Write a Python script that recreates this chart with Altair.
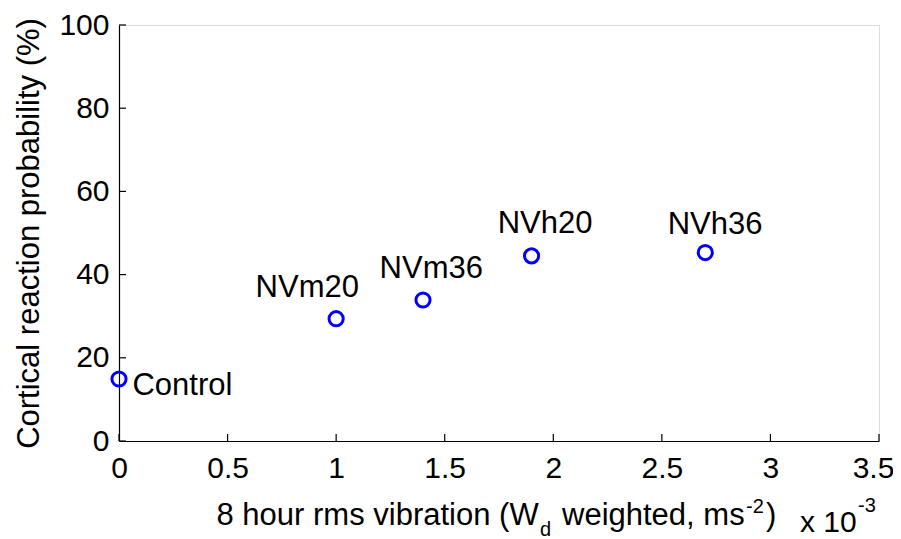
import altair as alt
import pandas as pd

# Data (x in units of 1e-3 m/s^2)
conditions = ["Control", "NVm20", "NVm36", "NVh20", "NVh36"]
vibration = [0.0, 1.0, 1.4, 1.9, 2.7]
probability = [14.9, 29.4, 33.9, 44.5, 45.3]
label_x = [0.062, 0.629, 1.200, 1.744, 2.527]
label_y = [11.1, 34.6, 39.3, 49.9, 49.8]

x_ticks = [0, 0.5, 1, 1.5, 2, 2.5, 3, 3.5]
y_ticks = [0, 20, 40, 60, 80, 100]

W, H = 760, 416
FONT = "Liberation Sans"

df = pd.DataFrame({"cond": conditions, "x": vibration, "y": probability,
                   "lx": label_x, "ly": label_y})
xt = pd.DataFrame({"v": x_ticks})
yt = pd.DataFrame({"v": y_ticks})

xscale = alt.Scale(domain=[0, 3.5], nice=False, zero=False)
yscale = alt.Scale(domain=[0, 100], nice=False, zero=False)

xaxis = alt.Axis(values=x_ticks, format="~g", grid=False, ticks=False, tickSize=0,
                 labelPadding=12, labelFontSize=30, labelFont=FONT, labelColor="black",
                 labelOffset={"condition": {"test": "datum.value >= 3.5", "value": -6},
                              "value": 0},
                 domainColor="black", domainWidth=1.2, title=None, labelFlush=False)
yaxis = alt.Axis(values=y_ticks, grid=False, ticks=False, tickSize=0,
                 labelPadding=10, labelFontSize=30, labelFont=FONT, labelColor="black",
                 domainColor="black", domainWidth=1.2,
                 title="Cortical reaction probability (%)", titleFontSize=31,
                 titleFont=FONT, titleFontWeight="normal", titleColor="black",
                 titleAngle=270, titleAlign="center", titleBaseline="alphabetic",
                 titleX=-81, titleY=208, labelFlush=False)

base = alt.Chart(df)

points = base.mark_point(shape="circle", filled=False, color="#0000ff",
                         strokeWidth=3, size=200, opacity=1, clip=False).encode(
    x=alt.X("x:Q", scale=xscale, axis=xaxis),
    y=alt.Y("y:Q", scale=yscale, axis=yaxis),
)

labels = base.mark_text(align="left", baseline="alphabetic", fontSize=31,
                        font=FONT, color="black").encode(
    x=alt.X("lx:Q", scale=xscale),
    y=alt.Y("ly:Q", scale=yscale),
    text="cond:N",
)

xtick_marks = alt.Chart(xt).mark_rule(color="black", strokeWidth=1.2).encode(
    x=alt.X("v:Q", scale=xscale),
    y=alt.value(H),
    y2=alt.value(H - 7),
)
ytick_marks = alt.Chart(yt).mark_rule(color="black", strokeWidth=1.2).encode(
    y=alt.Y("v:Q", scale=yscale),
    x=alt.value(0),
    x2=alt.value(7),
)

def txt(s, x, y, size):
    return alt.Chart(pd.DataFrame({"t": [s]})).mark_text(
        align="left", baseline="alphabetic", fontSize=size, font=FONT, color="black"
    ).encode(x=alt.value(x), y=alt.value(y), text="t:N")

title_parts = [
    txt("8 hour rms vibration (W", 97.5, 500, 31),
    txt("d", 421, 511, 20),
    txt("weighted, ms", 443, 500, 31),
    txt("-2", 627, 488, 20),
    txt(")", 647, 500, 31),
    txt("x 10", 681, 507, 30),
    txt("-3", 739, 487, 20),
]

chart = alt.layer(xtick_marks, ytick_marks, points, labels, *title_parts).properties(
    width=W, height=H,
    autosize=alt.AutoSizeParams(type="none"),
    padding={"left": 111, "top": 17, "right": 14, "bottom": 100},
).configure_view(stroke=None).configure(background="white")

chart.save("out.html", embed_options={"renderer": "svg", "actions": False})
